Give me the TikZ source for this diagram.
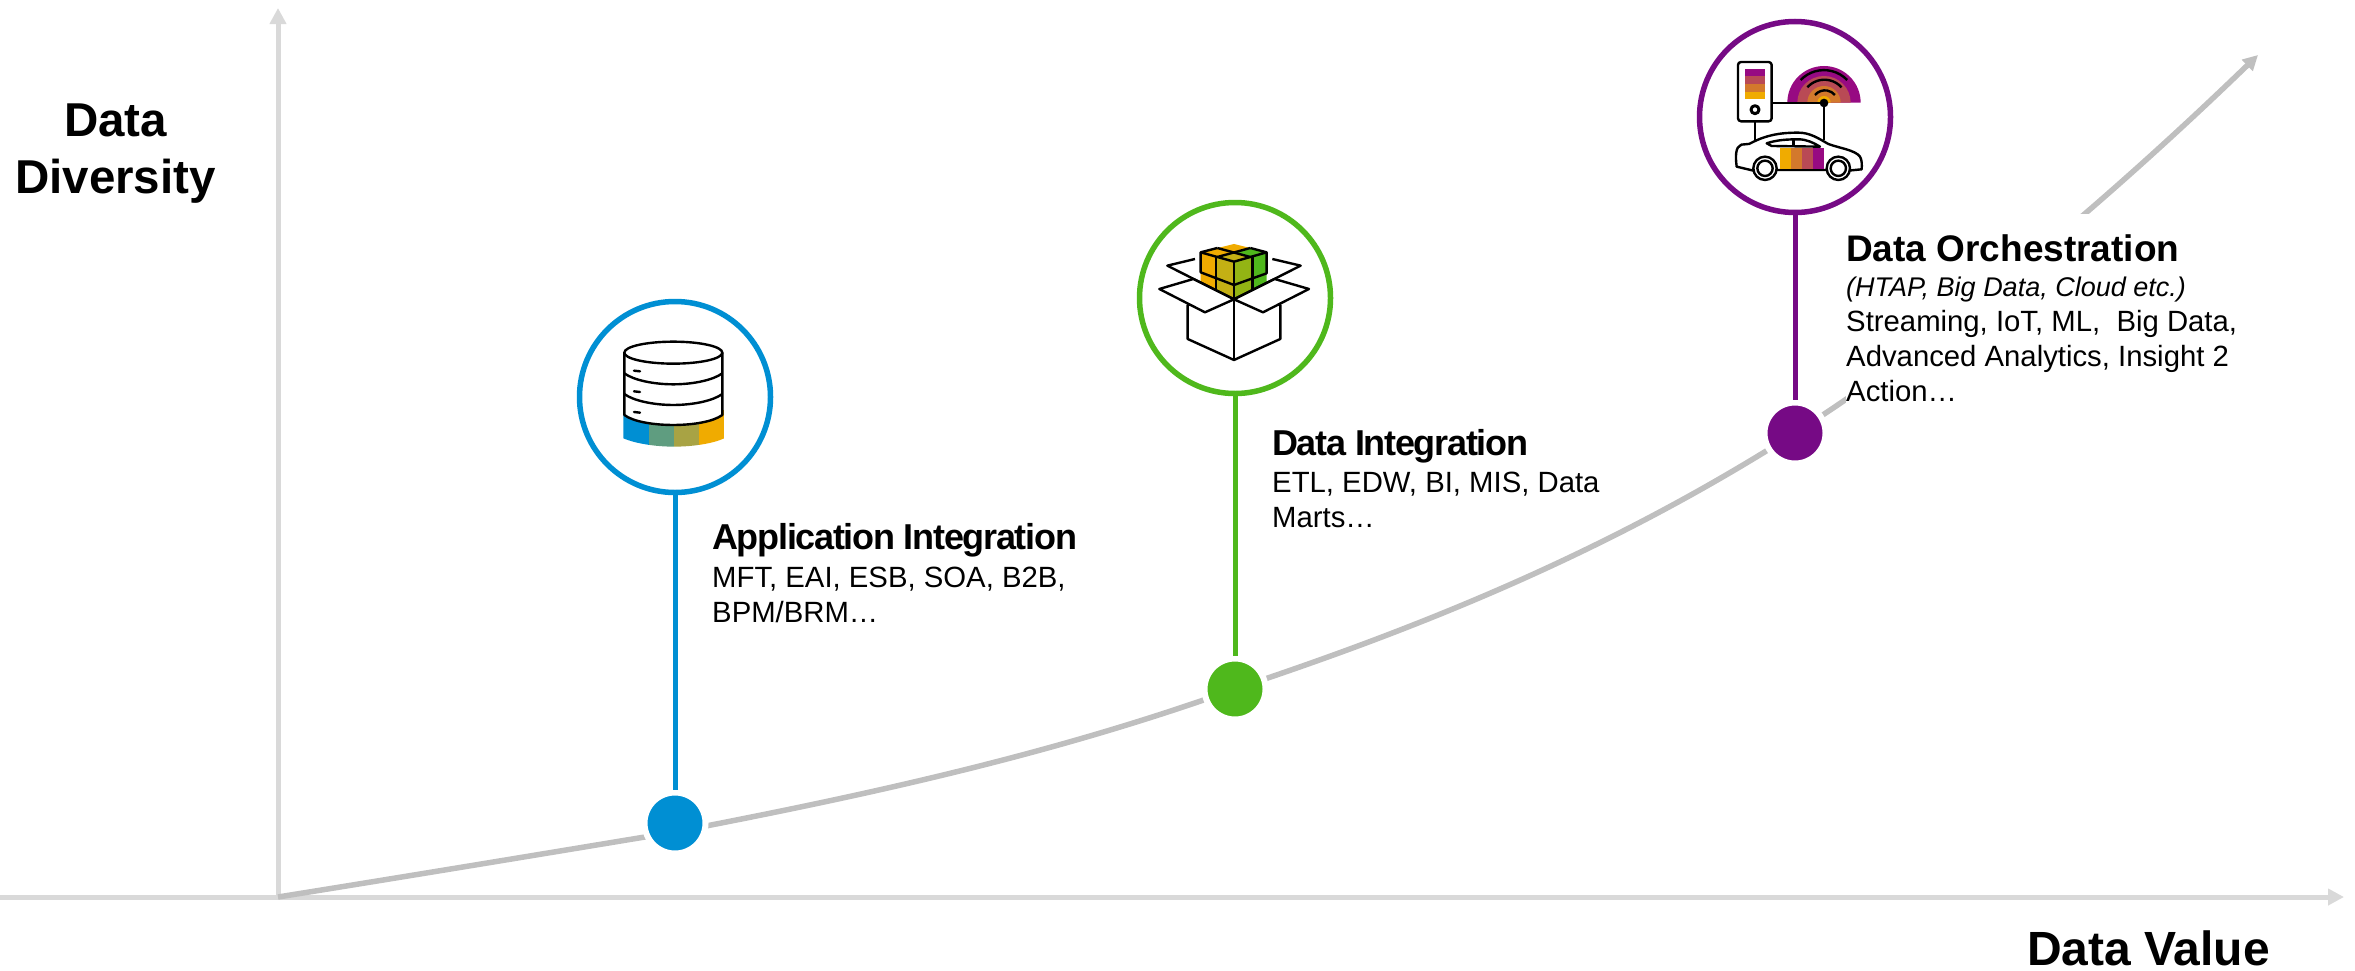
\documentclass[tikz,border=0pt]{standalone}
\usepackage{fontspec}
\setmainfont{Liberation Sans}
\newfontfamily\tightbold[LetterSpace=-3.6]{Liberation Sans Bold}
\usetikzlibrary{arrows.meta}
\definecolor{sapblue}{HTML}{008FD3}
\definecolor{sapgreen}{HTML}{4FB81C}
\definecolor{sappurple}{HTML}{760A85}
\definecolor{sapgold}{HTML}{F0AB00}
\definecolor{axisgrey}{HTML}{D9D9D9}
\definecolor{curvegrey}{HTML}{BFBFBF}
\definecolor{bandrose}{HTML}{B94A55}
\definecolor{bandamber}{HTML}{D3792C}
\definecolor{bandplum}{HTML}{970A82}
\definecolor{bandteal}{HTML}{5F9D80}
\definecolor{bandolive}{HTML}{A8A344}
\definecolor{cubegold}{HTML}{C4B014}
\definecolor{cubelime}{HTML}{93B414}
\tikzset{
	axisline/.style={draw=axisgrey, line width=5bp, -{Triangle[length=16bp,width=16bp]}},
	ring/.style={circle, draw=#1, fill=white, line width=5.5bp, minimum size=191bp, inner sep=0pt},
	dot/.style={circle, fill=#1, draw=white, line width=6bp, minimum size=61bp, inner sep=0pt},
	stem/.style={draw=#1, line width=5bp},
	caption/.style={anchor=north west, align=left, inner sep=0pt, font=\fontsize{29.3bp}{35bp}\selectfont},
	bigtitle/.style={font=\fontsize{47.5bp}{57bp}\selectfont\bfseries},
	icon/.style={draw=black, line width=2.4bp, line join=round}
}
\newcommand{\captitle}[1]{{\fontsize{36bp}{42bp}\selectfont\tightbold #1}}
\begin{document}
\begin{tikzpicture}[x=1bp,y=-1bp]
	\useasboundingbox (0,0) rectangle (2355,970);

	% axes and curve
	\coordinate (west) at (0,897);
	\coordinate (origin) at (278,897);
	\coordinate (east) at (2344,897);
	\coordinate (north) at (278,8);
	\coordinate (tip) at (2258,55);
	\draw[axisline] (west) -- (east);
	\draw[axisline] (origin) -- (north);

	\coordinate (a) at (675,823);
	\coordinate (onesub) at (675,832);
	\coordinate (b) at (1235,689);
	\coordinate (c) at (1795,433);
	\draw[draw=curvegrey, line width=5.5bp, -{Triangle[length=15bp,width=15bp]}] (origin)
		.. controls (409,876) and (542,854) .. (onesub)
		.. controls (862,796) and (1048,756) .. (b)
		.. controls (1422,627) and (1608,552) .. (c)
		.. controls (1949,335) and (2110,198) .. (tip);

	% dots, rings, stems
	\node[dot=sapblue] (dota) at (a) {};
	\node[dot=sapgreen] (dotb) at (b) {};
	\node[dot=sappurple] (dotc) at (c) {};
	\node[ring=sapblue] (ringa) at (675,397) {};
	\node[ring=sapgreen] (ringb) at (1235,298) {};
	\node[ring=sappurple] (ringc) at (1795,117) {};
	\draw[stem=sapblue] (ringa) -- (dota);
	\draw[stem=sapgreen] (ringb) -- (dotb);
	\draw[stem=sappurple] (ringc) -- (dotc);

	% labels
	\node[bigtitle, align=center] (diversity) at (115.5,153.5) {Data\\Diversity};
	\node[bigtitle, font=\fontsize{48bp}{57bp}\selectfont\bfseries] (value) at (2148.5,948.5) {Data Value};
	\node[caption] (texta) at (712,523) {\captitle{Application Integration}\\[3bp]MFT, EAI, ESB, SOA, B2B,\\BPM/BRM\ldots};
	\node[caption] (textb) at (1272,429) {\captitle{Data Integration}\\[2bp]ETL, EDW, BI, MIS, Data\\Marts\ldots};
	\node[caption, fill=white, inner ysep=20bp] (textc) at (1846,214) {{\fontsize{37bp}{42bp}\selectfont\bfseries Data Orchestration}\\{\fontsize{27bp}{30bp}\selectfont\itshape (HTAP, Big Data, Cloud etc.)}\\Streaming, IoT, ML,\ \ Big Data,\\Advanced Analytics, Insight 2\\Action\ldots};

	% database icon
	\begin{scope}[shift={(540,270)},x=0.3333bp,y=-0.3333bp]
		\begin{scope}
			\clip (250,420) -- (250,505) .. controls (290,522) and (350,530) .. (402,530) .. controls (455,530) and (515,522) .. (553,505) -- (553,420) -- cycle;
			\fill[sapblue] (250,420) rectangle (327,530);
			\fill[bandteal] (327,420) rectangle (402,530);
			\fill[bandolive] (402,420) rectangle (477,530);
			\fill[sapgold] (477,420) rectangle (553,530);
		\end{scope}
		\draw[icon, fill=white] (253,248) -- (253,435) .. controls (280,455) and (340,465) .. (400,465) .. controls (460,465) and (520,455) .. (547,435) -- (547,248) -- cycle;
		\draw[icon, fill=white] (400,248) ellipse (147 and 33);
		\foreach \y in {310,372} {
			\draw[icon] (253,\y) .. controls (280,\y+20) and (340,\y+33) .. (400,\y+33) .. controls (460,\y+33) and (520,\y+20) .. (547,\y);
		}
		\foreach \y in {302,364,426} {
			\draw[icon, line cap=round] (282,\y) -- (300,\y+2);
		}
	\end{scope}

	% box icon
	\begin{scope}[shift={(1110,180)},x=0.3333bp,y=-0.3333bp]
		\fill[sapgold] (272,217) -- (318,232) -- (318,331) -- (272,308) -- cycle;
		\fill[cubegold] (318,232) -- (372,245) -- (372,358) -- (318,331) -- cycle;
		\fill[cubelime] (372,245) -- (428,232) -- (428,331) -- (372,358) -- cycle;
		\fill[sapgreen] (428,232) -- (470,217) -- (470,308) -- (428,331) -- cycle;
		\fill[sapgold] (272,217) -- (372,192) -- (421,204) -- (322,231) -- cycle;
		\fill[sapgreen] (421,204) -- (470,217) -- (421,231) -- (372,218) -- cycle;
		\fill[cubegold] (372,218) -- (421,231) -- (372,245) -- (322,231) -- cycle;
		\draw[icon] (322,204) -- (272,217) -- (372,245) -- (470,217) -- (421,204);
		\draw[icon] (322,204) -- (421,231);
		\draw[icon] (421,204) -- (322,231);
		\draw[icon] (272,217) -- (272,277) -- (372,315) -- (470,280) -- (470,217);
		\draw[icon] (318,232) -- (318,331);
		\draw[icon] (428,232) -- (428,331);
		\draw[icon] (255,237) -- (172,257) -- (372,358) -- (572,257) -- (487,237);
		\draw[icon, fill=white] (233,375) -- (233,477) -- (372,540) -- (511,477) -- (511,375) -- (372,358) -- cycle;
		\draw[icon] (372,245) -- (372,540);
		\draw[icon, fill=white] (372,358) -- (285,397) -- (148,327) -- (250,297) -- cycle;
		\draw[icon, fill=white] (372,358) -- (459,397) -- (597,327) -- (494,297) -- cycle;
	\end{scope}

	% connected car icon
	\begin{scope}[shift={(1670,0)},x=0.3333bp,y=-0.3333bp]
		\fill[bandplum] (352,308) arc[start angle=180, end angle=360, radius=110] -- cycle;
		\fill[bandrose] (382,308) arc[start angle=180, end angle=360, radius=80] -- cycle;
		\fill[bandamber] (412,308) arc[start angle=180, end angle=360, radius=50] -- cycle;
		\fill[sapgold] (442,308) arc[start angle=180, end angle=360, radius=20] -- cycle;
		\draw[icon] (392,240) arc[start angle=224, end angle=316, radius=97];
		\draw[icon] (412,262) arc[start angle=222, end angle=318, radius=69];
		\draw[icon] (435,285) arc[start angle=220, end angle=320, radius=39];
		\draw[icon] (305,309) -- (462,309) -- (462,420);
		\draw[icon] (255,364) -- (255,420);
		\fill[black] (462,309) circle (13);
		\draw[icon, fill=white, rounded corners=3bp] (204,186) rectangle (305,364);
		\fill[bandplum] (224,206) rectangle (286,229);
		\fill[bandrose] (224,229) rectangle (286,252);
		\fill[bandamber] (224,252) rectangle (286,275);
		\fill[sapgold] (224,275) rectangle (286,298);
		\draw[icon, line width=3bp] (255,329) circle (12);
		\draw[icon, fill=white] (200,500) .. controls (196,470) and (196,440) .. (214,434) .. controls (225,430) and (235,436) .. (245,428) .. controls (290,405) and (330,398) .. (385,398) .. controls (420,398) and (445,415) .. (475,432) .. controls (510,445) and (555,450) .. (570,470) .. controls (576,480) and (576,495) .. (575,508) -- (535,512) -- (480,510) -- (320,510) -- (250,512) -- cycle;
		\fill[sapgold] (331,443) rectangle (364,510);
		\fill[bandamber] (364,443) rectangle (397,510);
		\fill[bandrose] (397,443) rectangle (430,510);
		\fill[bandplum] (430,443) rectangle (463,510);
		\draw[icon] (320,510) -- (480,510);
		\draw[icon, fill=white] (290,430) .. controls (320,420) and (350,418) .. (385,418) .. controls (410,418) and (430,428) .. (450,440) -- (305,438) -- cycle;
		\draw[icon] (370,420) -- (370,438);
		\foreach \x in {285,505} {
			\draw[icon, fill=white] (\x,505) circle (35);
			\draw[icon, fill=white] (\x,505) circle (23);
		}
	\end{scope}
\end{tikzpicture}
\end{document}
